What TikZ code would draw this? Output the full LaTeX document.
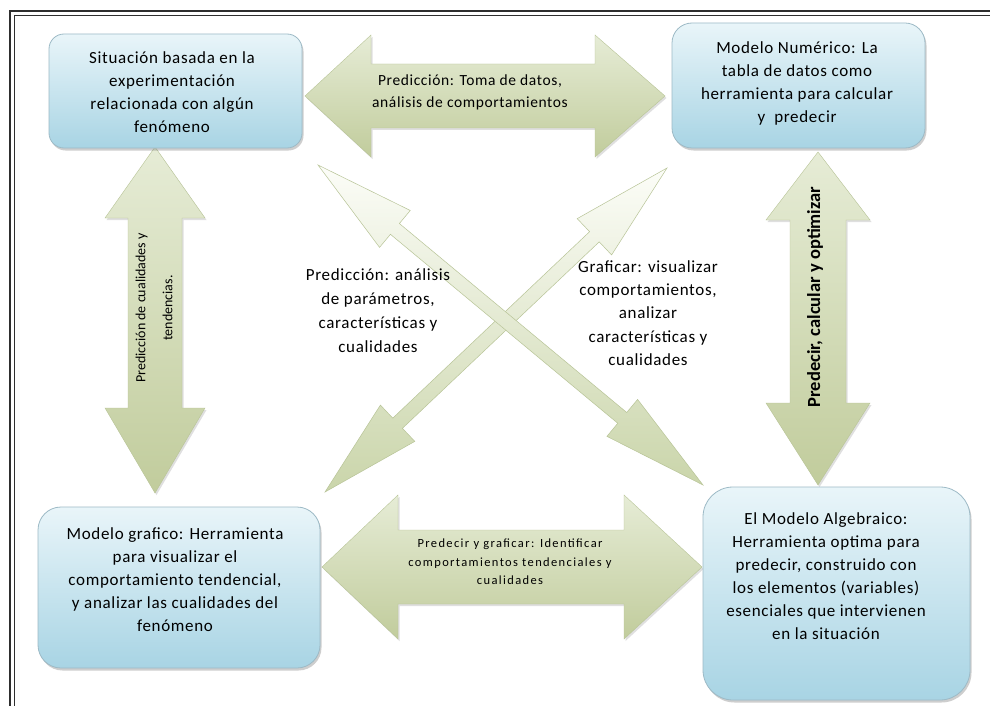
\documentclass[tikz,border=0pt]{standalone}
\usepackage{fontspec}
\setmainfont[LetterSpace=4]{Carlito}
\newfontfamily\tightfont{Carlito}
\usetikzlibrary{calc,shadows}

\definecolor{framecol}{HTML}{2E2E2E}
\definecolor{boxtop}{HTML}{E9F5F9}
\definecolor{boxbot}{HTML}{A8D4E4}
\definecolor{boxedge}{HTML}{9DBAC6}
\definecolor{arrtop}{HTML}{E6ECD6}
\definecolor{arrbot}{HTML}{C1CC9C}
\definecolor{arredge}{HTML}{B8C497}
\definecolor{diagtop}{HTML}{FCFDF8}
\definecolor{diagbot}{HTML}{CAD5AA}

\newcommand\blockarrow[7][]{%
  \path[#1] (#2)
    -- ($(#2)!#6!(#3)!#5!90:(#3)$)
    -- ($(#2)!#6!(#3)!#4!90:(#3)$)
    -- ($(#3)!#7!(#2)!#4!-90:(#2)$)
    -- ($(#3)!#7!(#2)!#5!-90:(#2)$)
    -- (#3)
    -- ($(#3)!#7!(#2)!#5!90:(#2)$)
    -- ($(#3)!#7!(#2)!#4!90:(#2)$)
    -- ($(#2)!#6!(#3)!#4!-90:(#3)$)
    -- ($(#2)!#6!(#3)!#5!-90:(#3)$)
    -- cycle;}

\tikzset{
  boxshape/.style={draw=boxedge, line width=0.8pt, top color=boxtop,
    bottom color=boxbot, inner sep=0pt,
    drop shadow={shadow xshift=1.5pt, shadow yshift=-2.5pt, opacity=0.35, fill=black!55}},
  boxtext/.style={align=center, inner sep=0pt, font=\fontsize{17}{23}\selectfont},
  bigarrow/.style={top color=arrtop, bottom color=arrbot, draw=arredge, line width=0.4pt,
    drop shadow={shadow xshift=1.5pt, shadow yshift=-2pt, opacity=0.25, fill=black!50}},
  diagarrow/.style={top color=diagtop, bottom color=diagbot, draw=arredge, line width=0.5pt},
  framethick/.style={draw=framecol, line width=2.2pt},
  framethin/.style={draw=framecol, line width=1pt},
}

\begin{document}
\begin{tikzpicture}[x=1pt,y=-1pt]
\useasboundingbox (0,0) rectangle (990,706);
\fill[white] (0,0) rectangle (990,706);

% frame
\draw[framethick] (10.3,706) -- (10.3,11.3) -- (990,11.3);
\draw[framethin] (14.8,706) -- (14.8,15.8) -- (990,15.8);

% end points of the block arrows
\coordinate (topL) at (305,96);
\coordinate (topR) at (665,96);
\coordinate (botL) at (322,567);
\coordinate (botR) at (702,567);
\coordinate (lefT) at (155,147);
\coordinate (lefB) at (155,493);
\coordinate (rigT) at (818,152);
\coordinate (rigB) at (818,485);
\coordinate (dAa) at (318,165);
\coordinate (dAb) at (703,485);
\coordinate (dBa) at (325,492);
\coordinate (dBb) at (667,168);

% big arrows
\blockarrow[bigarrow]{topL}{topR}{32pt}{61pt}{66pt}{70pt}
\blockarrow[bigarrow]{botL}{botR}{37pt}{72pt}{76pt}{78pt}
\blockarrow[bigarrow]{lefT}{lefB}{27pt}{50pt}{71pt}{85pt}
\blockarrow[bigarrow]{rigT}{rigB}{28pt}{52pt}{68pt}{82pt}

% diagonal arrows
\blockarrow[diagarrow]{dBa}{dBb}{7pt}{25pt}{100pt}{100pt}
\blockarrow[diagarrow]{dAa}{dAb}{7pt}{24pt}{100pt}{105pt}

% boxes
\node[boxshape, rounded corners=15pt, minimum width=253pt, minimum height=114pt] (s1) at (175.5,91) {};
\node[boxshape, rounded corners=20pt, minimum width=253pt, minimum height=125pt] (s2) at (798.5,85.5) {};
\node[boxshape, rounded corners=23pt, minimum width=282pt, minimum height=161pt] (s3) at (179,587.5) {};
\node[boxshape, rounded corners=30pt, minimum width=267pt, minimum height=213pt] (s4) at (836.5,593.5) {};

\node[boxtext] (t1) at (172,92) {Situación basada en la\\experimentación\\relacionada con algún\\fenómeno};
\node[boxtext] (t2) at (797,83) {Modelo Numérico: La\\tabla de datos como\\herramienta para calcular\\y\ \ predecir};
\node[boxtext] (t3) at (175,580) {Modelo grafico: Herramienta\\para visualizar el\\comportamiento tendencial,\\y analizar las cualidades del\\fenómeno};
\node[boxtext] (t4) at (826,576) {El Modelo Algebraico:\\Herramienta optima para\\predecir, construido con\\los elementos (variables)\\esenciales que intervienen\\en la situación};

% arrow labels
\node[align=center, inner sep=0pt, font=\fontsize{15.5}{22}\selectfont] (la) at (470,92)
  {Predicción: Toma de datos,\\análisis de comportamientos};
\node[align=center, inner sep=0pt, font=\fontsize{12.5}{18.5}\selectfont\addfontfeatures{LetterSpace=11}] (lb) at (510,562)
  {Predecir y graficar: Identificar\\comportamientos tendenciales y\\cualidades};
\node[align=center, inner sep=0pt, rotate=90, font=\tightfont\fontsize{14}{27}\selectfont] (ll) at (154,308)
  {Predicción de cualidades y\\tendencias.};
\node[inner sep=0pt, rotate=90, font=\tightfont\bfseries\fontsize{18.5}{22}\selectfont] (lr) at (815,297)
  {Predecir, calcular y optimizar};
\node[align=center, inner sep=0pt, font=\fontsize{17}{24}\selectfont] (ld1) at (378,311)
  {Predicción: análisis\\de parámetros,\\características y\\cualidades};
\node[align=center, inner sep=0pt, font=\fontsize{17}{23.3}\selectfont] (ld2) at (648,313)
  {Graficar: visualizar\\comportamientos,\\analizar\\características y\\cualidades};
\end{tikzpicture}
\end{document}
